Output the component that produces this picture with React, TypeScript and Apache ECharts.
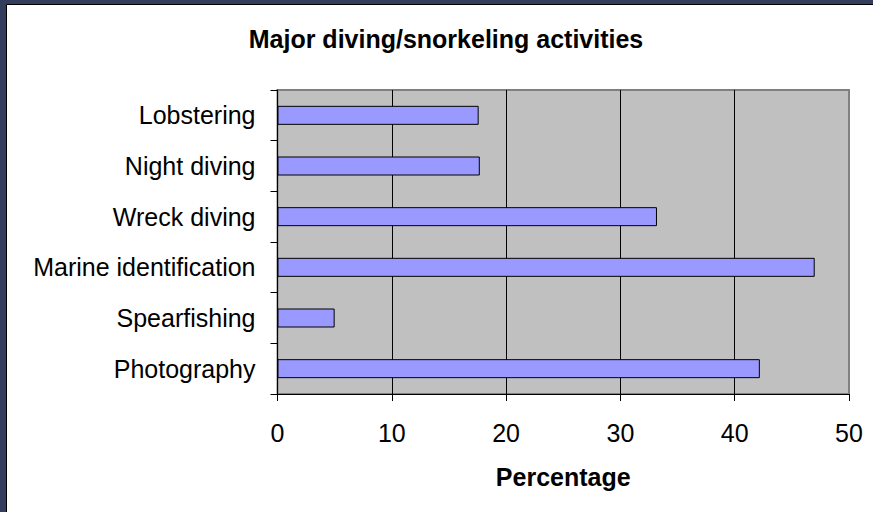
import React, { useEffect, useRef } from "react";
import * as echarts from "echarts";

// Activities, listed top to bottom as they appear on the chart
const activities = [
  "Lobstering",
  "Night diving",
  "Wreck diving",
  "Marine identification",
  "Spearfishing",
  "Photography",
];

// Share of respondents taking part in each activity (%)
const percentages = [17.6, 17.7, 33.2, 47.0, 5.0, 42.2];

const xTicks = [0, 10, 20, 30, 40, 50];

const chartTitle = "Major diving/snorkeling activities";
const xAxisTitle = "Percentage";

const FONT = "'Liberation Sans', Arial, sans-serif";

export default function App() {
  const ref = useRef<HTMLDivElement>(null);

  useEffect(() => {
    if (!ref.current) return;
    const chart = echarts.init(ref.current, null, { renderer: "svg" });

    chart.setOption({
      animation: false,
      backgroundColor: "#333d5c",
      textStyle: { fontFamily: FONT },
      graphic: [
        {
          type: "rect",
          z: -10,
          silent: true,
          shape: { x: 6.5, y: 4.5, width: 880, height: 520 },
          style: { fill: "#ffffff", stroke: "#000000", lineWidth: 1 },
        },
      ],
      title: {
        text: chartTitle,
        left: 446,
        top: 26,
        textAlign: "center",
        padding: 0,
        textStyle: {
          fontFamily: FONT,
          fontSize: 25,
          fontWeight: "bold",
          color: "#000",
        },
      },
      grid: {
        left: 277.5,
        right: 24,
        top: 90,
        bottom: 118,
        show: true,
        backgroundColor: "#c0c0c0",
        borderColor: "#808080",
        borderWidth: 2,
      },
      xAxis: {
        type: "value",
        min: xTicks[0],
        max: xTicks[xTicks.length - 1],
        interval: 10,
        name: xAxisTitle,
        nameLocation: "middle",
        nameGap: 70,
        nameTextStyle: {
          fontFamily: FONT,
          fontSize: 25,
          fontWeight: "bold",
          color: "#000",
        },
        axisLine: { show: true, lineStyle: { color: "#000", width: 1 } },
        axisTick: { show: true, length: 7, lineStyle: { color: "#000" } },
        axisLabel: {
          margin: 26,
          fontFamily: FONT,
          fontSize: 25,
          color: "#000",
        },
        splitLine: {
          show: true,
          showMinLine: false,
          showMaxLine: false,
          lineStyle: { color: "#000", width: 1 },
        },
      },
      yAxis: {
        type: "category",
        data: activities,
        inverse: true,
        axisLine: { show: true, lineStyle: { color: "#000", width: 1 } },
        axisTick: { show: true, length: 7, lineStyle: { color: "#000" } },
        axisLabel: {
          margin: 22,
          fontFamily: FONT,
          fontSize: 25,
          color: "#000",
        },
        splitLine: { show: false },
      },
      series: [
        {
          type: "bar",
          data: percentages,
          barWidth: 19,
          itemStyle: {
            color: "#9999ff",
            borderColor: "#000",
            borderWidth: 1,
          },
        },
      ],
    });

    return () => chart.dispose();
  }, []);

  return (
    <div
      ref={ref}
      style={{ position: "absolute", left: 0, top: 0, width: 873, height: 512 }}
    />
  );
}
